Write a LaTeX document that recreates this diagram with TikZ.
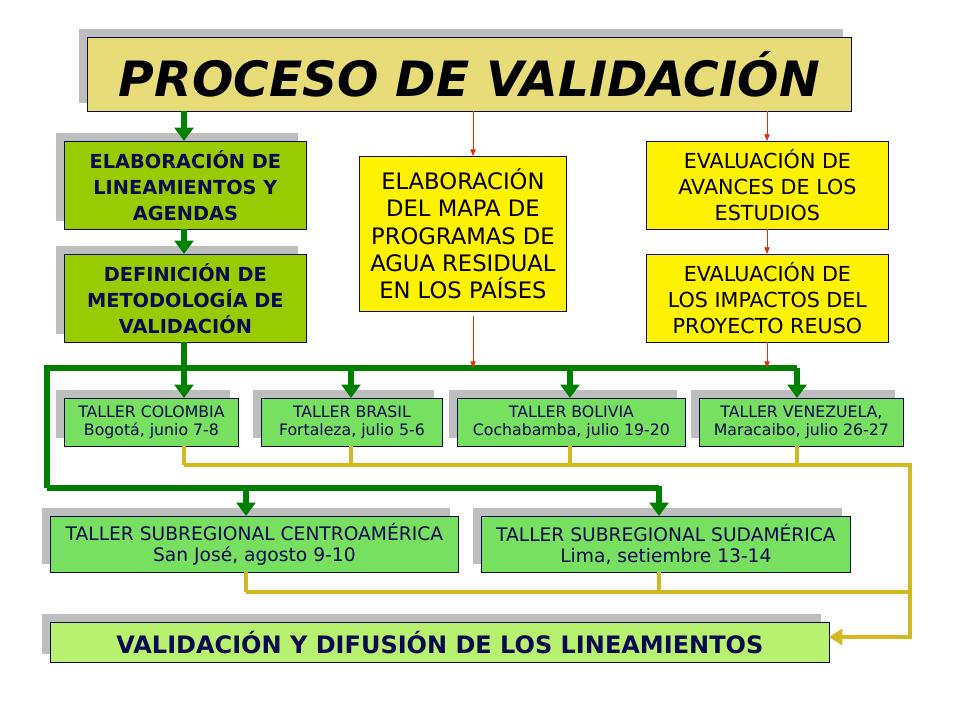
\documentclass[tikz,border=0pt]{standalone}
\usepackage{fontspec}
\setmainfont{DejaVu Sans}
\usetikzlibrary{arrows.meta}
\definecolor{navy}{HTML}{0A0A50}
\definecolor{titlefill}{HTML}{E8DC78}
\definecolor{olive}{HTML}{99CC00}
\definecolor{lgreen}{HTML}{77E060}
\definecolor{vgreen}{HTML}{B8F070}
\definecolor{dgreen}{HTML}{008000}
\definecolor{gold}{HTML}{D4B820}
\definecolor{shad}{HTML}{BEBEBE}
\definecolor{redarr}{HTML}{E03010}
\tikzset{
 box/.style={draw=navy,line width=0.6pt,text=navy,align=center,inner sep=0pt,anchor=north west},
 garrow/.style={dgreen,line width=4pt,-{Triangle[length=10pt,width=14pt]}},
 gline/.style={dgreen,line width=4pt},
 rarrow/.style={redarr,line width=0.6pt,-{Triangle[length=5pt,width=4pt]}},
 yline/.style={gold,line width=3pt},
 yarrow/.style={gold,line width=3pt,-{Triangle[length=10pt,width=12pt]}},
}
\begin{document}
\begin{tikzpicture}[x=0.75pt,y=-0.75pt]
\fill[white] (0,0) rectangle (960,720);
\useasboundingbox (0,0) rectangle (960,720);
% shadows
\foreach \a/\b/\c/\d in {87/37/851/111,64/141/306/229,64/254/306/342,64/398/238/446,261/398/442/446,457/398/685/446,699/398/903/446,50/516/458/572,481/516/850/572,50/622/829/662}
 \fill[shad] (\a-8,\b-8) rectangle (\c-8,\d-8);
% boxes
\node[box,fill=titlefill,minimum width=764*0.75pt,minimum height=74*0.75pt,text=black,font=\bfseries\itshape\fontsize{36.5}{40}\selectfont] (title) at (87,37) {PROCESO DE VALIDACIÓN};
\node[box,fill=olive,minimum width=242*0.75pt,minimum height=88*0.75pt,font=\bfseries\fontsize{14.5}{19.5}\selectfont] (elab) at (64,141) {ELABORACIÓN DE\\LINEAMIENTOS Y\\AGENDAS};
\node[box,fill=olive,minimum width=242*0.75pt,minimum height=88*0.75pt,font=\bfseries\fontsize{14.5}{19.5}\selectfont] (def) at (64,254) {DEFINICIÓN DE\\METODOLOGÍA DE\\VALIDACIÓN};
\node[box,fill=yellow,minimum width=207*0.75pt,minimum height=155*0.75pt,text=black,font=\fontsize{17}{20.5}\selectfont] (mapa) at (359,156) {ELABORACIÓN\\DEL MAPA DE\\PROGRAMAS DE\\AGUA RESIDUAL\\EN LOS PAÍSES};
\node[box,fill=yellow,minimum width=242*0.75pt,minimum height=88*0.75pt,text=black,font=\fontsize{15.5}{19.5}\selectfont] (eva) at (646,141) {EVALUACIÓN DE\\AVANCES DE LOS\\ESTUDIOS};
\node[box,fill=yellow,minimum width=242*0.75pt,minimum height=88*0.75pt,text=black,font=\fontsize{15.5}{19.5}\selectfont] (evi) at (646,254) {EVALUACIÓN DE\\LOS IMPACTOS DEL\\PROYECTO REUSO};
\tikzset{tall/.style={box,fill=lgreen,minimum height=48*0.75pt,font=\fontsize{11.8}{13.8}\selectfont}}
\node[tall,minimum width=174*0.75pt] (col) at (64,398) {TALLER COLOMBIA\\Bogotá, junio 7-8};
\node[tall,minimum width=181*0.75pt] (bra) at (261,398) {TALLER BRASIL\\Fortaleza, julio 5-6};
\node[tall,minimum width=228*0.75pt] (bol) at (457,398) {TALLER BOLIVIA\\Cochabamba, julio 19-20};
\node[tall,minimum width=204*0.75pt] (ven) at (699,398) {TALLER VENEZUELA,\\Maracaibo, julio 26-27};
\tikzset{sub/.style={box,fill=lgreen,minimum height=56*0.75pt,font=\fontsize{14}{16}\selectfont}}
\node[sub,minimum width=408*0.75pt] (cen) at (50,516) {TALLER SUBREGIONAL CENTROAMÉRICA\\San José, agosto 9-10};
\node[sub,minimum width=369*0.75pt] (sud) at (481,516) {TALLER SUBREGIONAL SUDAMÉRICA\\Lima, setiembre 13-14};
\node[box,fill=vgreen,minimum width=779*0.75pt,minimum height=40*0.75pt,font=\bfseries\fontsize{18}{20}\selectfont] (val) at (50,622) {VALIDACIÓN Y DIFUSIÓN DE LOS LINEAMIENTOS};
% green
\draw[garrow] (184,111) -- (184,141);
\draw[garrow] (184,229) -- (184,254);
\draw[garrow] (184,342) -- (184,398);
\draw[gline] (47,488) -- (47,368) -- (797,368);
\foreach \x in {351,570,797} \draw[garrow] (\x,368) -- (\x,398);
\draw[gline] (47,488) -- (659,488);
\draw[garrow] (246,488) -- (246,516);
\draw[garrow] (659,486) -- (659,516);
% red
\draw[rarrow] (473,111) -- (473,156);
\draw[rarrow] (473,316) -- (473,368);
\draw[rarrow] (767,111) -- (767,141);
\draw[rarrow] (767,229) -- (767,254);
\draw[rarrow] (767,342) -- (767,368);
% gold
\foreach \x in {184,351,570,797} \draw[yline] (\x,446) -- (\x,465);
\draw[yline] (184,465) -- (910,465) -- (910,637);
\draw[yarrow] (911.5,637) -- (829,637);
\foreach \x in {246,659} \draw[yline] (\x,572) -- (\x,592);
\draw[yline] (246,592) -- (910,592);
\end{tikzpicture}
\end{document}
